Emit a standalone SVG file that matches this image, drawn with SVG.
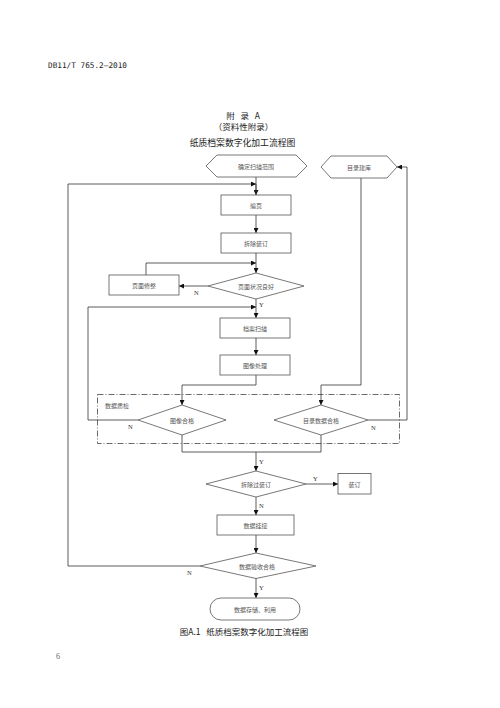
<svg xmlns="http://www.w3.org/2000/svg" width="500" height="708" viewBox="0 0 500 708">
<style>
.n{fill:#fff;stroke:#555;stroke-width:0.8}
.t{font-family:"Noto Sans CJK SC",sans-serif;font-size:6px;fill:#555;text-anchor:middle;dominant-baseline:central}
.c{fill:none;stroke:#333;stroke-width:0.8}
.l{font-family:"Liberation Serif",serif;font-size:6.5px;fill:#333}
.h{font-family:"Noto Sans CJK SC",sans-serif;fill:#222;text-anchor:middle}
</style>
<defs>
<marker id="a" viewBox="0 0 10 10" refX="10" refY="5" markerWidth="5" markerHeight="5" markerUnits="userSpaceOnUse" orient="auto">
<path d="M0,0L10,5L0,10z" fill="#111"/>
</marker>
</defs>
<rect width="500" height="708" fill="#fff"/>
<text x="48" y="68" font-family="DejaVu Sans Mono,monospace" font-size="7.7" fill="#222" textLength="79">DB11/T 765.2—2010</text>
<text class="h" x="243" y="119" font-size="8.5" xml:space="preserve">附   录   A</text>
<text class="h" x="243.5" y="130" font-size="8.5">（资料性附录）</text>
<text class="h" x="242.5" y="146" font-size="8.8">纸质档案数字化加工流程图</text>

<g id="connectors">
<path class="c" d="M256,177V195" marker-end="url(#a)"/>
<path class="c" d="M200,566H68V184H256" marker-end="url(#a)"/>
<path class="c" d="M256,184V195"/>
<path class="c" d="M256,215V233" marker-end="url(#a)"/>
<path class="c" d="M256,253V273" marker-end="url(#a)"/>
<path class="c" d="M146,275V263H256" marker-end="url(#a)"/>
<path class="c" d="M208,286H179" marker-end="url(#a)"/>
<path class="c" d="M256,299V318" marker-end="url(#a)"/>
<path class="c" d="M138,420H88V307H256" marker-end="url(#a)"/>
<path class="c" d="M256,338V355" marker-end="url(#a)"/>
<path class="c" d="M256,375V385H182V405" marker-end="url(#a)"/>
<path class="c" d="M361,178V385H321V405" marker-end="url(#a)"/>
<path class="c" d="M368,420H407V167H397" marker-end="url(#a)"/>
<path class="c" d="M182,435V452H321V435"/>
<path class="c" d="M256,452V471" marker-end="url(#a)"/>
<path class="c" d="M306,484H338" marker-end="url(#a)"/>
<path class="c" d="M256,497V515" marker-end="url(#a)"/>
<path class="c" d="M256,535V553" marker-end="url(#a)"/>
<path class="c" d="M256,578V598" marker-end="url(#a)"/>
<text class="l" x="194" y="295">N</text>
<text class="l" x="259" y="307">Y</text>
<text class="l" x="128" y="429">N</text>
<text class="l" x="371" y="430">N</text>
<text class="l" x="259" y="464">Y</text>
<text class="l" x="313" y="481">Y</text>
<text class="l" x="259" y="508">N</text>
<text class="l" x="187" y="575">N</text>
<text class="l" x="259" y="590">Y</text>
</g>

<g id="qc">
<rect x="97.5" y="394.5" width="302" height="49" fill="none" stroke="#444" stroke-width="0.8" stroke-dasharray="6 2 1 2"/>
<text class="t" x="117" y="405">数据质检</text>
</g>

<g id="n1"><polygon class="n" points="206,166 217,155 296,155 307,166 296,177 217,177"/><text class="t" x="256" y="166">确定扫描范围</text></g>
<g id="n2"><polygon class="n" points="321,167 331,156 387,156 397,167 387,178 331,178"/><text class="t" x="359" y="167">目录建库</text></g>
<g id="n3"><rect class="n" x="221" y="195" width="70" height="20"/><text class="t" x="256" y="205">编页</text></g>
<g id="n4"><rect class="n" x="221" y="233" width="70" height="20"/><text class="t" x="256" y="243">拆除装订</text></g>
<g id="n5"><polygon class="n" points="208,286 256,273 304,286 256,299"/><text class="t" x="256" y="286">页面状况良好</text></g>
<g id="n6"><rect class="n" x="109" y="275" width="70" height="20"/><text class="t" x="144" y="285">页面修整</text></g>
<g id="n7"><rect class="n" x="220" y="318" width="70" height="20"/><text class="t" x="255" y="328">档案扫描</text></g>
<g id="n8"><rect class="n" x="220" y="355" width="70" height="20"/><text class="t" x="255" y="365">图像处理</text></g>
<g id="n9"><polygon class="n" points="138,420 182,405 226,420 182,435"/><text class="t" x="182" y="420">图像合格</text></g>
<g id="n10"><polygon class="n" points="274,420 321,405 368,420 321,435"/><text class="t" x="321" y="420">目录数据合格</text></g>
<g id="n11"><polygon class="n" points="206,484 256,471 306,484 256,497"/><text class="t" x="256" y="484">拆除过装订</text></g>
<g id="n12"><rect class="n" x="338" y="473.5" width="33" height="20.5"/><text class="t" x="354.5" y="484">装订</text></g>
<g id="n13"><rect class="n" x="217" y="515" width="77" height="20"/><text class="t" x="255.5" y="525">数据挂接</text></g>
<g id="n14"><polygon class="n" points="200,566 256,553 316,566 256,578.5"/><text class="t" x="257" y="566">数据验收合格</text></g>
<g id="n15"><rect class="n" x="210" y="598" width="90" height="22" rx="11" ry="11"/><text class="t" x="255" y="609">数据存储、利用</text></g>

<text class="h" x="244" y="635" font-size="8.5" xml:space="preserve">图A.1   纸质档案数字化加工流程图</text>
<text x="56" y="659" font-family="Liberation Serif,serif" font-size="8" fill="#666">6</text>
</svg>
